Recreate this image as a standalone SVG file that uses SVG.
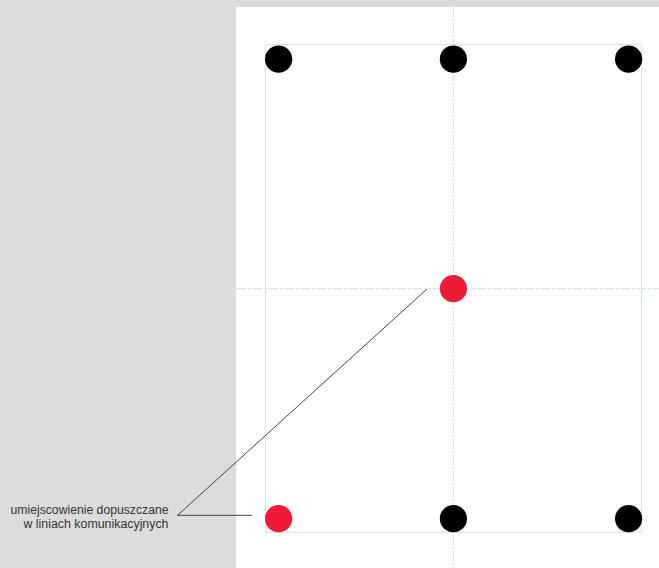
<svg xmlns="http://www.w3.org/2000/svg" width="659" height="568" viewBox="0 0 659 568">
  <style>
    .axis { stroke: #d3e5f3; stroke-width: 1.2; stroke-dasharray: 10 2 2 2; fill: none; }
    .frame { stroke: #d3e5f3; stroke-width: 1.2; fill: none; }
    .black { fill: #000000; }
    .red { fill: #ee1c35; }
    .leader { stroke: #444444; stroke-width: 1; fill: none; }
    .label { font-family: "Liberation Sans", Arial, sans-serif; font-size: 12px; fill: #333333; text-anchor: end; }
  </style>
  <rect x="0" y="0" width="659" height="568" fill="#dcdcdc"/>
  <rect x="236" y="7" width="423" height="561" fill="#ffffff"/>
  <g id="grid">
    <line class="axis" x1="453.3" y1="7" x2="453.3" y2="568"/>
    <line class="axis" x1="236" y1="288.7" x2="659" y2="288.7"/>
    <rect class="frame" x="265.5" y="44.5" width="376" height="488"/>
  </g>
  <g id="connectors">
    <polyline class="leader" points="427,289 177.5,515.3 252,515.3"/>
  </g>
  <g id="node-top-left"><circle class="black" cx="278.6" cy="59.2" r="13.6"/></g>
  <g id="node-top-middle"><circle class="black" cx="453.4" cy="59.2" r="13.6"/></g>
  <g id="node-top-right"><circle class="black" cx="628.6" cy="59.2" r="13.6"/></g>
  <g id="node-center"><circle class="red" cx="453.4" cy="288.7" r="13.6"/></g>
  <g id="node-bottom-left"><circle class="red" cx="278.6" cy="518.7" r="13.6"/></g>
  <g id="node-bottom-middle"><circle class="black" cx="453.4" cy="518.7" r="13.6"/></g>
  <g id="node-bottom-right"><circle class="black" cx="628.6" cy="518.7" r="13.6"/></g>
  <g id="label">
    <text class="label" x="168.5" y="513.5" textLength="158" lengthAdjust="spacingAndGlyphs">umiejscowienie dopuszczane</text>
    <text class="label" x="168.5" y="528" textLength="145" lengthAdjust="spacingAndGlyphs">w liniach komunikacyjnych</text>
  </g>
</svg>
